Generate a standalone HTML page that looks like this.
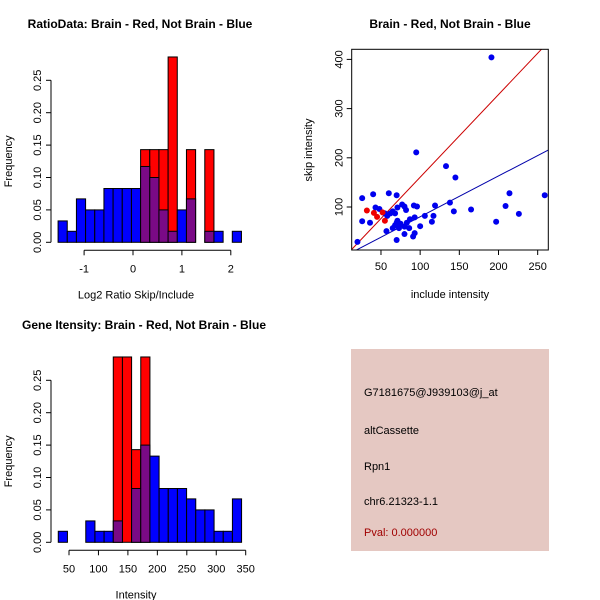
<!DOCTYPE html>
<html><head><meta charset="utf-8"><style>
body{margin:0;background:#fff}
svg{font-family:"Liberation Sans",sans-serif;display:block}
</style></head><body>
<svg id="c" width="600" height="600">
<rect x="351" y="349" width="198" height="202" fill="#e5c8c2"/>
<text x="364" y="396" font-size="11">G7181675@J939103@j_at</text>
<text x="364" y="434" font-size="11">altCassette</text>
<text x="364" y="470" font-size="11">Rpn1</text>
<text x="364" y="505" font-size="11">chr6.21323-1.1</text>
<text x="364" y="536" font-size="11" fill="#a00000">Pval: 0.000000</text>
</svg>
<script>
// Ratio histogram data
const ratioBlue=[0.033,0.017,0.067,0.05,0.05,0.083,0.083,0.083,0.083,0.117,0.1,0.05,0.017,0.05,0.067,0,0.017,0.017,0,0.017];
const ratioRed=[0,0,0,0,0,0,0,0,0,0.143,0.143,0.143,0.286,0,0.143,0,0.143,0,0,0];
const ratioTicks=[-1,0,1,2];
// Intensity histogram data
const intBlue=[0.017,0,0,0.033,0.017,0.017,0.033,0,0.083,0.15,0.133,0.083,0.083,0.083,0.067,0.05,0.05,0.017,0.017,0.067];
const intRed=[0,0,0,0,0,0,0.286,0.286,0.143,0.286,0,0,0,0,0,0,0,0,0,0];
const intTicks=[50,100,150,200,250,300,350];
const freqTicks=["0.00","0.05","0.10","0.15","0.20","0.25"];
// Scatter data
const blueX=[191,95,133,145,20,26,26,36,40,60,70,43,48,55,58,62,65,68,71,77,80,82,92,96,93,87,83,80,75,70,68,65,57,70,80,91,93,100,106,117,115,119,138,143,165,197,209,214,226,259,73,86,71];
const blueY=[404,211,183,160,29,118,71,68,126,128,124,99,96,87,82,87,91,87,99,105,101,94,103,101,79,75,68,60,66,68,63,57,51,33,45,40,47,61,82,82,70,103,109,91,95,70,102,128,86,124,57,57,72];
const redX=[32,41,45,52,55];
const redY=[93,88,80,89,72];
const xTicksS=[50,100,150,200,250];
const yTicksS=[100,200,300,400];

const svg=document.getElementById('c');
const NS='http://www.w3.org/2000/svg';
function mk(t,a,name,parent){const e=document.createElementNS(NS,t);for(const k in a)e.setAttribute(k,a[k]);


(parent||svg).appendChild(e);return e;}
function txt(x,y,s,name,opt){const e=mk('text',Object.assign({x:x,y:y,'font-size':11,'text-anchor':'middle'},opt||{}),name);e.textContent=s;return e;}

function hist(o){
  const ys=v=>o.y0+v*(o.y25-o.y0)/0.25;
  const xv=v=>o.xa+(v-o.va)*o.ppu;
  const bx=i=>xv(o.start+i*o.bw);
  const w=o.bw*o.ppu;
  o.red.forEach((v,i)=>{if(v>0)mk('rect',{x:bx(i),y:ys(v),width:w,height:o.y0-ys(v),fill:'#ff0000',stroke:'#000','stroke-width':1},o.p+'-red-bar-'+i);});
  o.blue.forEach((v,i)=>{if(v>0){const m=Math.min(v,o.red[i]);
    mk('rect',{x:bx(i),y:ys(v),width:w,height:o.y0-ys(v),fill:m>0?'#7a0a86':'#0000ff',stroke:'#000','stroke-width':1},o.p+'-blue-bar-'+i);
    if(v>m&&m>0){mk('rect',{x:bx(i),y:ys(v),width:w,height:ys(m)-ys(v),fill:'#0000ff',stroke:'#000','stroke-width':1},o.p+'-blue-excess-'+i);}}});
  mk('line',{x1:o.ax,y1:o.y0,x2:o.ax,y2:ys(0.25),stroke:'#000'},o.p+'-y-axis');
  freqTicks.forEach(t=>{const yy=ys(+t);mk('line',{x1:o.ax-5,y1:yy,x2:o.ax,y2:yy,stroke:'#000'},o.p+'-y-tick');
    txt(0,0,t,o.p+'-y-tick-label',{transform:`translate(${o.ax-10},${yy}) rotate(-90)`});});
  const ty=o.y0+8;
  mk('line',{x1:xv(o.ticks[0]),y1:ty,x2:xv(o.ticks[o.ticks.length-1]),y2:ty,stroke:'#000'},o.p+'-x-axis');
  o.ticks.forEach(t=>{mk('line',{x1:xv(t),y1:ty,x2:xv(t),y2:ty+5,stroke:'#000'},o.p+'-x-tick');txt(xv(t),ty+22,String(t),o.p+'-x-tick-label');});
  txt(o.ax+85,o.y0+56,o.xl,o.p+'-x-axis-title');
  txt(0,0,'Frequency',o.p+'-y-axis-title',{transform:`translate(12,${ys(0.125)}) rotate(-90)`});
  txt(o.tx,o.ty,o.title,o.p+'-title',{'font-weight':'bold','font-size':12});
}
hist({p:'ratio',red:ratioRed,blue:ratioBlue,ticks:ratioTicks,y0:242.3,y25:80.3,ax:51,xa:133,va:0,ppu:48.9,start:-1.532,bw:0.1875,xl:'Log2 Ratio Skip/Include',title:'RatioData: Brain - Red, Not Brain - Blue',tx:140,ty:28});
hist({p:'intensity',red:intRed,blue:intBlue,ticks:intTicks,y0:542.3,y25:380.3,ax:51,xa:69,va:50,ppu:0.589,start:31.8,bw:15.56,xl:'Intensity',title:'Gene Itensity: Brain - Red, Not Brain - Blue',tx:144,ty:329});

// scatter
const sx=v=>341.8+v*0.7835, sy=v=>256.2-v*0.492;
const L=351.7,R=548.3,T=49.3,B=250;
mk('clipPath',{id:'clp'},'scatter-clip');
mk('rect',{x:L,y:T,width:R-L,height:B-T},'scatter-clip-rect',document.getElementById('clp'));
const cg=mk('g',{'clip-path':'url(#clp)'},'scatter-marks');
mk('line',{x1:sx(0),y1:sy(-7.5),x2:sx(300),y2:sy(300*1.68-7.5),stroke:'#cc0000'},'red-fit-line',cg);
mk('line',{x1:sx(0),y1:sy(-2.9),x2:sx(300),y2:sy(300*0.83-2.9),stroke:'#0000aa'},'blue-fit-line',cg);
blueX.forEach((v,i)=>mk('circle',{cx:sx(v),cy:sy(blueY[i]),r:3,fill:'#0000ee'},'blue-point',cg));
redX.forEach((v,i)=>mk('circle',{cx:sx(v),cy:sy(redY[i]),r:3,fill:'#ee0000'},'red-point',cg));
mk('rect',{x:L,y:T,width:R-L,height:B-T,fill:'none',stroke:'#000'},'scatter-frame');
xTicksS.forEach(t=>{mk('line',{x1:sx(t),y1:B,x2:sx(t),y2:B+5,stroke:'#000'},'scatter-x-tick');txt(sx(t),B+20,String(t),'scatter-x-tick-label');});
yTicksS.forEach(t=>{mk('line',{x1:L-5,y1:sy(t),x2:L,y2:sy(t),stroke:'#000'},'scatter-y-tick');txt(0,0,String(t),'scatter-y-tick-label',{transform:`translate(${L-9},${sy(t)}) rotate(-90)`});});
txt(450,298,'include intensity','scatter-x-axis-title');
txt(0,0,'skip intensity','scatter-y-axis-title',{transform:`translate(312,150) rotate(-90)`});
txt(450,28,'Brain - Red, Not Brain - Blue','scatter-title',{'font-weight':'bold','font-size':12});
</script>
</body></html>
